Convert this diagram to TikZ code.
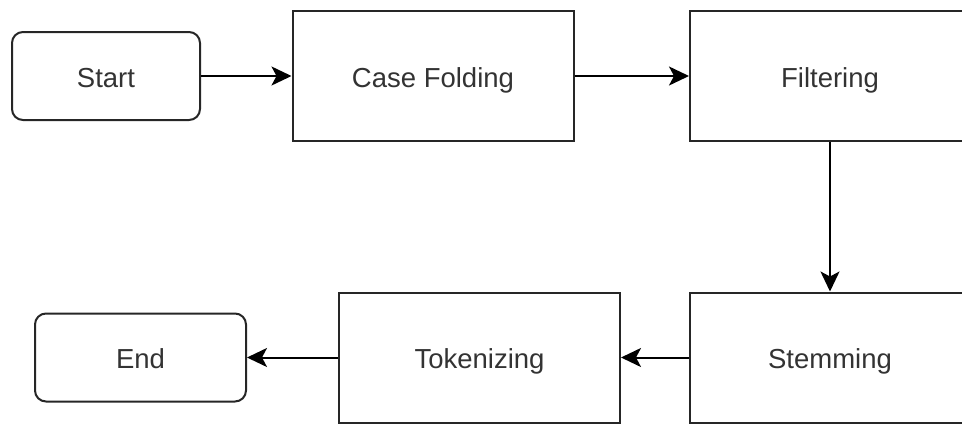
\documentclass[tikz,border=0pt]{standalone}
\usepackage{fontspec}
\setmainfont{Liberation Sans}
\usepackage{tikz}
\usetikzlibrary{arrows.meta, positioning}

\begin{document}
\begin{tikzpicture}[x=1pt, y=-1pt,
    box/.style={draw=black!85, line width=2pt, rectangle, inner sep=0pt,
        minimum width=281pt, minimum height=130pt, text=black!80,
        text height=26pt, text depth=3.3pt,
        font=\fontsize{27.5}{33}\selectfont},
    term/.style={box, rounded corners=11pt, minimum height=88pt},
    flow/.style={draw=black, line width=2pt,
        -{Stealth[length=20pt, width=19pt, inset=5pt]}}]
    % Keep the page to the canvas, the right column runs off it
    \clip (0,0) rectangle (962,424);
    
    % Draw the top row
    \node[term, minimum width=188pt] (start) at (106,76) {Start};
    \node[box] (casefold) at (433,76) {Case Folding};
    \node[box, minimum width=280pt] (filter) at (830,76) {Filtering};
    
    % Draw the bottom row
    \node[box, minimum width=280pt] (stem) at (830,357.5) {Stemming};
    \node[box] (token) at (479.5,357.5) {Tokenizing};
    \node[term, minimum width=211pt] (finish) at (140.5,357.5) {End};
    
    % Draw the flow between the steps
    \draw[flow] (start) -- (casefold);
    \draw[flow] (casefold) -- (filter);
    \draw[flow] (filter) -- (stem);
    \draw[flow] (stem) -- (token);
    \draw[flow] (token) -- (finish);
\end{tikzpicture}
\end{document}
